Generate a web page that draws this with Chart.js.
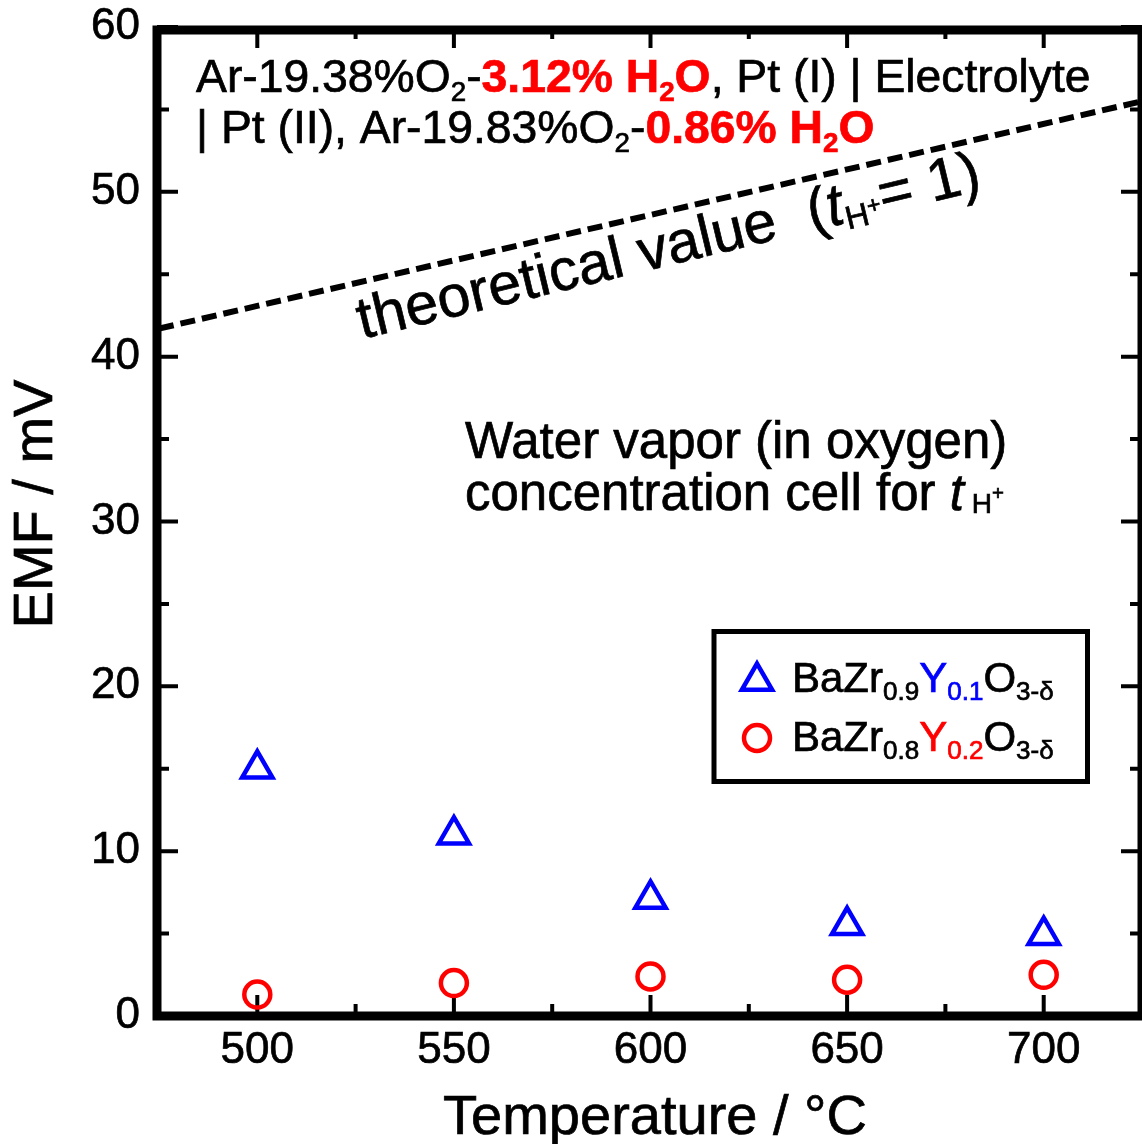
<!DOCTYPE html>
<html><head><meta charset="utf-8">
<script src="https://cdn.jsdelivr.net/npm/chart.js@4.4.0/dist/chart.umd.min.js"></script>
<style>html,body{margin:0;padding:0;background:#fff}canvas{display:block}</style>
</head><body>
<canvas id="c" width="1142" height="1144"></canvas>
<script>
// ---- data ----
const temperatures = [500, 550, 600, 650, 700];
const emfBZY10 = [15.0, 11.0, 7.1, 5.5, 4.9];
const emfBZY20 = [1.3, 2.0, 2.4, 2.2, 2.5];
const theoryTemps = [475, 725];
const theoryEMF = [41.7, 55.5];
const xTickValues = [500, 550, 600, 650, 700];
const xMinorValues = [525, 575, 625, 675];
const yTickValues = [0, 10, 20, 30, 40, 50, 60];
const yMinorValues = [5, 15, 25, 35, 45, 55];
const xTitle = 'Temperature / °C';
const yTitle = 'EMF / mV';

// ---- text runs (content) ----
const headerLine1 = [
  {t:'Ar-19.38%O'}, {t:'2', sub:true}, {t:'-'},
  {t:'3.12% H', red:true, bold:true}, {t:'2', sub:true, red:true, bold:true}, {t:'O', red:true, bold:true},
  {t:', Pt (I) | Electrolyte'}
];
const headerLine2 = [
  {t:'| Pt (II), Ar-19.83%O'}, {t:'2', sub:true}, {t:'-'},
  {t:'0.86% H', red:true, bold:true}, {t:'2', sub:true, red:true, bold:true}, {t:'O', red:true, bold:true}
];
const theoryLabel = [
  {t:'theoretical value  ('}, {t:'t', italic:true}, {t:'H', sub:true}, {t:'+', sup:true}, {t:'= 1)'}
];
const cellLine1 = [{t:'Water vapor (in oxygen)'}];
const cellLine2 = [{t:'concentration cell for '}, {t:'t', italic:true}, {t:' H', sub:true}, {t:'+', sup:true}];
const legend1 = [{t:'BaZr'}, {t:'0.9', sub:true}, {t:'Y', blue:true}, {t:'0.1', sub:true, blue:true}, {t:'O'}, {t:'3-δ', sub:true}];
const legend2 = [{t:'BaZr'}, {t:'0.8', sub:true}, {t:'Y', red:true}, {t:'0.2', sub:true, red:true}, {t:'O'}, {t:'3-δ', sub:true}];

const FF = '"Liberation Sans", Arial, Helvetica, sans-serif';
const BLUE = '#0000ff', RED = '#ff0000';
const HEAVY = 0.7; // extra stroke to mimic heavier glyph rendering

function heavyText(ctx, s, x, y) {
  ctx.fillText(s, x, y);
  ctx.lineWidth = HEAVY;
  ctx.strokeStyle = ctx.fillStyle;
  ctx.strokeText(s, x, y);
}

function drawRuns(ctx, x, y, runs, size, opt) {
  opt = opt || {};
  const subScale = opt.subScale || 0.6, subDy = opt.subDy || 0.2, supScale = opt.supScale || 0.45, supDy = opt.supDy || 0.35;
  ctx.textBaseline = 'alphabetic';
  ctx.textAlign = 'left';
  for (const r of runs) {
    let s = size, dy = 0;
    if (r.sub) { s = size * subScale; dy = size * subDy; }
    if (r.sup) { s = size * supScale; dy = -size * supDy; }
    ctx.font = (r.italic ? 'italic ' : '') + (r.bold ? 'bold ' : '') + s + 'px ' + FF;
    ctx.fillStyle = r.red ? RED : (r.blue ? BLUE : '#000');
    heavyText(ctx, r.t, x, y + dy);
    x += ctx.measureText(r.t).width;
  }
  return x;
}

function triangle(ctx, x, y, r) {
  ctx.beginPath();
  let rad = 0;
  for (let i = 0; i < 3; i++) {
    const px = x + Math.sin(rad) * r, py = y - Math.cos(rad) * r;
    if (i === 0) ctx.moveTo(px, py); else ctx.lineTo(px, py);
    rad += 2 * Math.PI / 3;
  }
  ctx.closePath();
}

const decor = {
  id: 'decor',
  beforeDatasetsDraw(chart) {
    const {ctx, chartArea: a, scales: {x, y}} = chart;
    ctx.save();
    ctx.strokeStyle = '#000';
    ctx.lineWidth = 4;
    const MAJ = 21, MIN = 12;
    const L = a.left - 2;
    const vt = (v, len) => { const p = x.getPixelForValue(v); ctx.beginPath();
      ctx.moveTo(p, a.bottom); ctx.lineTo(p, a.bottom - len);
      ctx.moveTo(p, a.top); ctx.lineTo(p, a.top + len); ctx.stroke(); };
    const ht = (v, len) => { const p = y.getPixelForValue(v); ctx.beginPath();
      ctx.moveTo(L, p); ctx.lineTo(L + len, p);
      ctx.moveTo(a.right, p); ctx.lineTo(a.right - len, p); ctx.stroke(); };
    xTickValues.forEach(v => vt(v, MAJ));
    xMinorValues.forEach(v => vt(v, MIN));
    yTickValues.forEach(v => ht(v, MAJ));
    yMinorValues.forEach(v => ht(v, MIN));
    ctx.restore();
  },
  afterDatasetsDraw(chart) {
    const {ctx, chartArea: a} = chart;
    ctx.save();
    ctx.strokeStyle = '#000';
    ctx.lineWidth = 9;
    ctx.strokeRect(a.left - 2, a.top + 3, a.right - a.left + 2, a.bottom - a.top - 3);
    ctx.restore();
  },
  afterDraw(chart) {
    const {ctx, scales: {x, y}} = chart;
    ctx.save();
    ctx.fillStyle = '#000';
    // tick labels, placed with the library's scales
    ctx.font = '44px ' + FF;
    ctx.textBaseline = 'middle';
    ctx.textAlign = 'center';
    x.ticks.forEach(t => { ctx.fillStyle = '#000'; heavyText(ctx, String(t.value), x.getPixelForValue(t.value), 1051); });
    ctx.textAlign = 'right';
    y.ticks.forEach(t => { ctx.fillStyle = '#000'; heavyText(ctx, String(t.value), 140, y.getPixelForValue(t.value)); });
    // axis titles
    ctx.fillStyle = '#000';
    ctx.font = '56px ' + FF;
    ctx.textAlign = 'center';
    ctx.textBaseline = 'alphabetic';
    heavyText(ctx, xTitle, 655, 1134);
    ctx.save();
    ctx.translate(52, 504);
    ctx.rotate(-Math.PI / 2);
    ctx.fillStyle = '#000';
    heavyText(ctx, yTitle, 0, 0);
    ctx.restore();
    // header
    drawRuns(ctx, 196, 92, headerLine1, 46.3);
    drawRuns(ctx, 196, 143, headerLine2, 46.3);
    // theoretical label
    ctx.save();
    ctx.translate(362, 339);
    ctx.rotate(-13.5 * Math.PI / 180);
    drawRuns(ctx, 0, 0, theoryLabel, 59, {subScale: 0.55, subDy: 0.12, supScale: 0.4, supDy: 0.05});
    ctx.restore();
    // cell text
    drawRuns(ctx, 465, 458, cellLine1, 51);
    drawRuns(ctx, 465, 510, cellLine2, 51, {subScale: 0.55, subDy: 0.05, supScale: 0.4, supDy: 0.2});
    // legend box
    ctx.lineWidth = 5;
    ctx.strokeStyle = '#000';
    ctx.strokeRect(714, 631.5, 373.5, 150);
    ctx.lineWidth = 4.5;
    ctx.strokeStyle = BLUE;
    triangle(ctx, 757, 681, 17.5); ctx.stroke();
    ctx.strokeStyle = RED;
    ctx.beginPath(); ctx.arc(757, 738, 13, 0, Math.PI * 2); ctx.stroke();
    drawRuns(ctx, 792, 692, legend1, 42, {subScale: 0.62, subDy: 0.2});
    drawRuns(ctx, 792, 751, legend2, 42, {subScale: 0.62, subDy: 0.2});
    ctx.restore();
  }
};

new Chart(document.getElementById('c'), {
  type: 'scatter',
  data: {
    datasets: [
      {
        label: 'theoretical value',
        data: theoryTemps.map((t, i) => ({x: t, y: theoryEMF[i]})),
        showLine: true, borderColor: '#000', borderWidth: 6, borderDash: [15, 7],
        pointRadius: 0, fill: false
      },
      {
        label: 'BaZr0.9Y0.1O3-δ',
        data: temperatures.map((t, i) => ({x: t, y: emfBZY10[i]})),
        pointStyle: 'triangle', pointRadius: 17.5, pointBorderWidth: 4.5,
        pointBorderColor: BLUE, pointBackgroundColor: 'rgba(0,0,0,0)', borderColor: BLUE
      },
      {
        label: 'BaZr0.8Y0.2O3-δ',
        data: temperatures.map((t, i) => ({x: t, y: emfBZY20[i]})),
        pointStyle: 'circle', pointRadius: 13, pointBorderWidth: 4.5,
        pointBorderColor: RED, pointBackgroundColor: 'rgba(0,0,0,0)', borderColor: RED
      }
    ]
  },
  options: {
    responsive: false, animation: false, devicePixelRatio: 1, events: [],
    layout: {autoPadding: false, padding: {left: 0, right: -2, top: 27, bottom: 0}},
    plugins: {legend: {display: false}, tooltip: {enabled: false}},
    scales: {
      x: {
        type: 'linear', min: 475, max: 725,
        afterFit(s) { s.height = 128; s.paddingLeft = 0; s.paddingRight = 0; },
        afterBuildTicks(s) { s.ticks = xTickValues.map(v => ({value: v})); },
        grid: {display: false, drawTicks: false}, border: {display: false},
        ticks: {display: false},
        title: {display: false}
      },
      y: {
        type: 'linear', min: 0, max: 60,
        afterFit(s) { s.width = 159; s.paddingTop = 0; s.paddingBottom = 0; },
        afterBuildTicks(s) { s.ticks = yTickValues.map(v => ({value: v})); },
        grid: {display: false, drawTicks: false}, border: {display: false},
        ticks: {display: false},
        title: {display: false}
      }
    }
  },
  plugins: [decor]
});
</script>
</body></html>
